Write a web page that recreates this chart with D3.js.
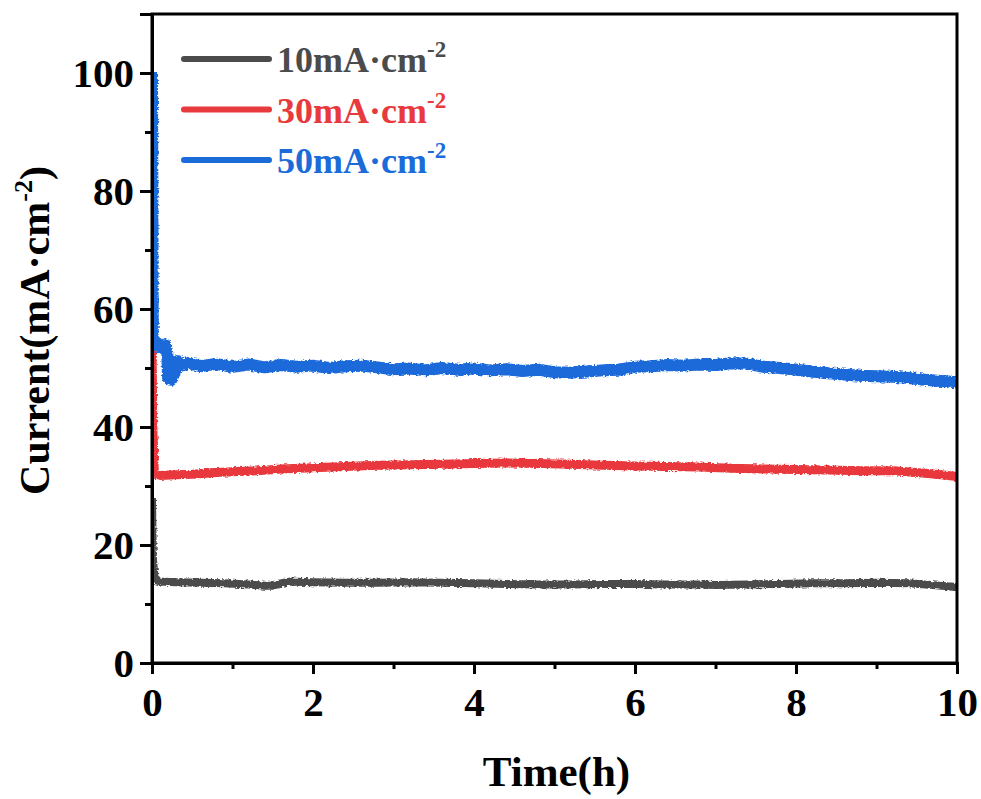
<!DOCTYPE html>
<html>
<head>
<meta charset="utf-8">
<script src="https://cdn.jsdelivr.net/npm/d3@7"></script>
<style>
  html, body { margin: 0; padding: 0; background: #fff; }
  svg { display: block; }
  text { font-family: "Liberation Serif", "Times New Roman", serif; font-weight: bold; }
</style>
</head>
<body>
<svg id="chart" width="981" height="799"></svg>
<script>
// Chronoamperometry: current density vs. time at three set currents
const seriesNames = ["10mA·cm", "30mA·cm", "50mA·cm"];
const seriesColors = ["#4b4b4b", "#e8393c", "#1b6bd9"];

const time10 = [0, 0.01, 0.03, 0.06, 0.1, 0.3, 0.6, 0.9, 1.2, 1.4, 1.5, 1.6, 1.7, 2.0, 2.4, 2.8, 3.2, 3.6, 4.0, 4.4, 4.8, 5.2, 5.6, 6.0, 6.4, 6.8, 7.0, 7.4, 7.8, 8.2, 8.6, 9.0, 9.4, 9.7, 10.0];
const current10 = [28, 18, 14.8, 14.0, 13.8, 13.7, 13.6, 13.5, 13.3, 13.1, 13.1, 13.5, 13.8, 13.7, 13.6, 13.6, 13.7, 13.6, 13.5, 13.4, 13.3, 13.3, 13.4, 13.4, 13.3, 13.3, 13.2, 13.3, 13.4, 13.5, 13.5, 13.6, 13.5, 13.2, 12.9];

const time30 = [0, 0.01, 0.03, 0.1, 0.3, 0.5, 0.8, 1.0, 1.3, 1.6, 2.0, 2.4, 2.8, 3.2, 3.6, 4.0, 4.4, 4.8, 5.2, 5.6, 6.0, 6.4, 6.8, 7.2, 7.6, 8.0, 8.4, 8.8, 9.2, 9.5, 9.8, 10.0];
const current30 = [55, 40, 32.0, 31.8, 31.9, 32.0, 32.3, 32.4, 32.6, 32.9, 33.1, 33.3, 33.5, 33.6, 33.7, 33.8, 33.9, 33.8, 33.7, 33.5, 33.4, 33.3, 33.2, 33.0, 32.9, 32.8, 32.7, 32.6, 32.6, 32.3, 31.9, 31.6];

const time50 = [0, 0.01, 0.04, 0.08, 0.12, 0.16, 0.19, 0.2, 0.24, 0.28, 0.32, 0.36, 0.45, 0.6, 0.8, 1.0, 1.2, 1.4, 1.6, 1.8, 2.0, 2.2, 2.4, 2.6, 2.8, 3.0, 3.2, 3.4, 3.6, 3.8, 4.0, 4.2, 4.4, 4.6, 4.8, 5.0, 5.2, 5.4, 5.6, 5.8, 6.0, 6.2, 6.4, 6.6, 6.8, 7.0, 7.2, 7.4, 7.6, 7.8, 8.0, 8.2, 8.4, 8.6, 8.8, 9.0, 9.2, 9.4, 9.6, 9.8, 10.0];
const current50 = [100, 55, 53.8, 54.2, 53.4, 53.9, 52.5, 48.3, 48.0, 49.2, 51.2, 50.4, 50.9, 50.3, 50.7, 50.2, 50.6, 50.1, 50.5, 50.2, 50.4, 50.0, 50.3, 50.4, 50.1, 49.8, 49.9, 49.6, 50.0, 49.7, 49.9, 49.6, 49.8, 49.5, 49.7, 49.3, 49.2, 49.4, 49.6, 49.7, 50.2, 50.3, 50.5, 50.4, 50.6, 50.5, 50.8, 50.7, 50.2, 50.0, 49.7, 49.4, 49.1, 48.9, 48.7, 48.6, 48.5, 48.3, 48.0, 47.8, 47.6];

const xTicks = [0, 2, 4, 6, 8, 10];
const xMinorTicks = [1, 3, 5, 7, 9];
const yTicks = [0, 20, 40, 60, 80, 100];
const yMinorTicks = [10, 30, 50, 70, 90];

const series = [
  { name: seriesNames[0], color: seriesColors[0], t: time10, v: current10, width: 8 },
  { name: seriesNames[1], color: seriesColors[1], t: time30, v: current30, width: 9 },
  { name: seriesNames[2], color: seriesColors[2], t: time50, v: current50, width: 12 }
];

const svg = d3.select("#chart");
const margin = { left: 152, right: 957, top: 14, bottom: 663 };

const x = d3.scaleLinear().domain([0, 10]).range([margin.left, margin.right]);
const y = d3.scaleLinear().domain([0, 110]).range([margin.bottom, margin.top]);

const defs = svg.append("defs");
// Clip so the start-up spikes stay inside the frame
defs.append("clipPath").attr("id", "plotClip")
  .append("rect")
  .attr("x", margin.left).attr("y", margin.top)
  .attr("width", margin.right - margin.left)
  .attr("height", margin.bottom - margin.top);

// Ragged edge for the dense, noisy sampled traces
const rough = defs.append("filter").attr("id", "rough")
  .attr("x", "-2%").attr("y", "-20%").attr("width", "104%").attr("height", "140%");
rough.append("feTurbulence")
  .attr("type", "fractalNoise").attr("baseFrequency", "0.35 0.6")
  .attr("numOctaves", 2).attr("seed", 3).attr("result", "noise");
rough.append("feDisplacementMap")
  .attr("in", "SourceGraphic").attr("in2", "noise")
  .attr("scale", 4).attr("xChannelSelector", "R").attr("yChannelSelector", "G");

const line = d3.line().x(d => x(d[0])).y(d => y(d[1]));

const plot = svg.append("g").attr("clip-path", "url(#plotClip)");
series.forEach(s => {
  plot.append("path")
    .datum(s.t.map((t, i) => [t, s.v[i]]))
    .attr("fill", "none")
    .attr("stroke", s.color)
    .attr("stroke-width", s.width)
    .attr("stroke-linejoin", "round")
    .attr("filter", "url(#rough)")
    .attr("d", line);
});

// Frame
svg.append("rect")
  .attr("x", margin.left).attr("y", margin.top)
  .attr("width", margin.right - margin.left)
  .attr("height", margin.bottom - margin.top)
  .attr("fill", "none").attr("stroke", "#000").attr("stroke-width", 3);

// Bottom axis
const xAxis = svg.append("g").attr("transform", `translate(0,${margin.bottom})`)
  .call(d3.axisBottom(x).tickValues(xTicks).tickSize(11).tickPadding(13).tickFormat(d3.format("d")));
svg.append("g").attr("transform", `translate(0,${margin.bottom})`)
  .call(d3.axisBottom(x).tickValues(xMinorTicks).tickSize(6).tickFormat(""))
  .call(g => g.select(".domain").remove());

// Left axis
const yAxis = svg.append("g").attr("transform", `translate(${margin.left},0)`)
  .call(d3.axisLeft(y).tickValues(yTicks).tickSize(12).tickPadding(6).tickFormat(d3.format("d")));
svg.append("g").attr("transform", `translate(${margin.left},0)`)
  .call(d3.axisLeft(y).tickValues(yMinorTicks).tickSize(7).tickFormat(""))
  .call(g => g.select(".domain").remove());

svg.selectAll(".domain").attr("stroke-width", 3).attr("stroke", "#000");
svg.selectAll(".tick line").attr("stroke-width", 3).attr("stroke", "#000");
svg.selectAll(".tick text")
  .attr("font-family", "Liberation Serif, Times New Roman, serif")
  .attr("font-weight", "bold")
  .attr("font-size", 41)
  .attr("fill", "#000");
xAxis.selectAll(".tick text").attr("dy", "0.71em");
yAxis.selectAll(".tick text").attr("dy", "0.34em");

// Axis titles
svg.append("text")
  .attr("x", (margin.left + margin.right) / 2 + 2)
  .attr("y", 786)
  .attr("text-anchor", "middle")
  .attr("font-size", 43)
  .attr("fill", "#000")
  .text("Time(h)");

const yTitle = svg.append("text")
  .attr("transform", `translate(49,${(margin.top + margin.bottom) / 2 - 8}) rotate(-90)`)
  .attr("text-anchor", "middle")
  .attr("font-size", 42)
  .attr("fill", "#000");
yTitle.append("tspan").text("Current(mA·cm");
yTitle.append("tspan").attr("font-size", 26).attr("dy", -17).text("-2");
yTitle.append("tspan").attr("dy", 17).text(")");

// Legend
const legend = svg.append("g");
series.forEach((s, i) => {
  const cy = 59 + i * 50.5;
  legend.append("line")
    .attr("x1", 184).attr("x2", 269)
    .attr("y1", cy).attr("y2", cy)
    .attr("stroke", s.color).attr("stroke-width", 6)
    .attr("stroke-linecap", "round");
  const t = legend.append("text")
    .attr("x", 277).attr("y", cy + 13)
    .attr("font-size", 36)
    .attr("fill", s.color);
  t.append("tspan").text(s.name);
  t.append("tspan").attr("font-size", 23).attr("dy", -15).text("-2");
});
</script>
</body>
</html>
